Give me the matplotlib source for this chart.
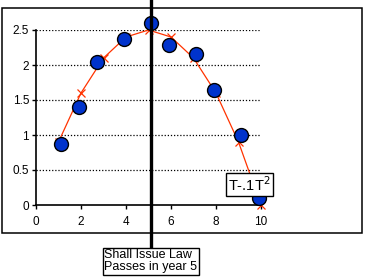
import matplotlib.pyplot as plt
from matplotlib.patches import Rectangle

# observed values (blue dots)
years = [1.1, 1.9, 2.7, 3.9, 5.1, 5.9, 7.1, 7.9, 9.1, 9.9]
obs = [0.87, 1.4, 2.04, 2.37, 2.6, 2.29, 2.16, 1.64, 1.0, 0.1]

# fitted curve T - .1T^2
t_fit = [1, 2, 3, 4, 5, 6, 7, 8, 9, 10]
y_fit = [0.9, 1.6, 2.1, 2.4, 2.5, 2.4, 2.1, 1.6, 0.9, 0.0]

law_year = 5.1
yticks = [0, 0.5, 1, 1.5, 2, 2.5]
ytick_labels = ['0', '0.5', '1', '1.5', '2', '2.5']
xticks = [0, 2, 4, 6, 8, 10]

plt.rcParams['font.family'] = ['Liberation Sans', 'DejaVu Sans']

fig = plt.figure(figsize=(3.65, 2.78), dpi=100)
fig.patch.set_facecolor('white')
ax = fig.add_axes([36/365, 73/278, 225/365, 175/278])

# outer frame
fig.patches.append(Rectangle((2/365, 1 - 233/278), 360/365, 225/278,
                             transform=fig.transFigure, fill=False,
                             edgecolor='black', linewidth=1.1, zorder=0))

for y in yticks[1:]:
    ax.axhline(y, color='black', linestyle=(0, (1, 1.5)), linewidth=0.9, zorder=1)

ax.plot(t_fit, y_fit, color='#ff3300', linewidth=0.9, marker='x',
        markersize=6, markeredgewidth=0.9, zorder=3, clip_on=False)
ax.plot(years, obs, 'o', color='#0033cc', markeredgecolor='black',
        markersize=10, markeredgewidth=1, zorder=4, clip_on=False)

# vertical line for the law
ax.plot([law_year, law_year], [2.93, -0.6], color='black', linewidth=2.4,
        clip_on=False, zorder=5)

ax.set_xlim(0, 10)
ax.set_ylim(0, 2.5)
ax.set_xticks(xticks)
ax.set_yticks(yticks)
ax.set_yticklabels(ytick_labels)
ax.tick_params(direction='out', length=3, width=1, labelsize=8.5)
ax.tick_params(axis='x', pad=5)
ax.tick_params(axis='y', pad=2)
for s in ['top', 'right']:
    ax.spines[s].set_visible(False)
for s in ['left', 'bottom']:
    ax.spines[s].set_linewidth(1.2)

ax.text(9.48, 0.29, 'T-.1T$^2$', fontsize=10.5, ha='center', va='center',
        zorder=6, bbox=dict(boxstyle='square,pad=0.15', facecolor='white',
                            edgecolor='black', linewidth=1))

fig.text(104/365, 1 - 249/278, 'Shall Issue Law\nPasses in year 5', fontsize=9,
         ha='left', va='top', linespacing=1.05,
         bbox=dict(boxstyle='square,pad=0.12', facecolor='white',
                   edgecolor='black', linewidth=1))

fig.savefig('out.png', dpi=100)
